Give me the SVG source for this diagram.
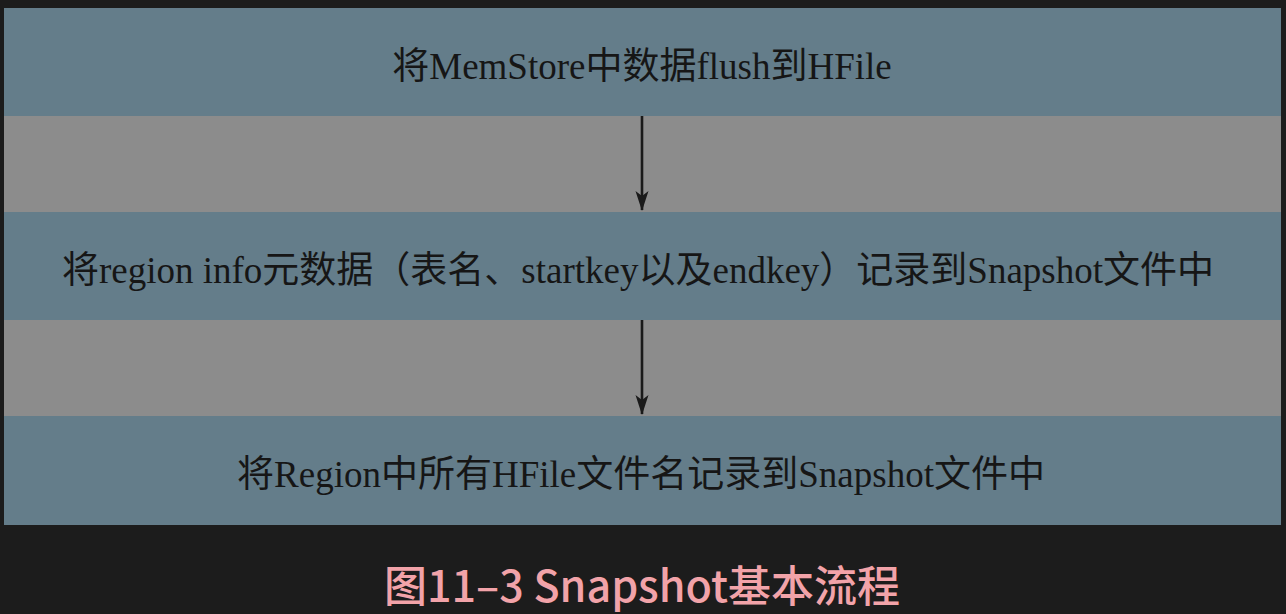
<svg xmlns="http://www.w3.org/2000/svg" width="1286" height="614" viewBox="0 0 1286 614">
  <style>
    .band { fill: #647d8a; }
    .gap { fill: #8c8c8c; }
    .label { font-family: "Liberation Serif", "Noto Sans CJK SC", serif; font-size: 37px; fill: #161616; text-anchor: middle; }
    .edge { stroke: #1a1a1a; stroke-width: 2.6; fill: none; }
    .title { font-family: "Noto Sans CJK SC", "Noto Sans", sans-serif; font-size: 43px; font-weight: 500; fill: #f2a3a9; text-anchor: middle; }
  </style>
  <defs>
    <marker id="arrow" markerUnits="userSpaceOnUse" markerWidth="20" markerHeight="14" refX="19" refY="7" orient="auto" viewBox="0 0 20 14">
      <path d="M0,0.5 L20,7 L0,13.5 L5,7 Z" fill="#1a1a1a"/>
    </marker>
  </defs>
  <rect x="0" y="0" width="1286" height="614" fill="#1c1c1c"/>
  <rect class="gap" x="4" y="116" width="1277" height="96"/>
  <rect class="gap" x="4" y="320" width="1277" height="96"/>
  <g id="node-flush">
    <rect class="band" x="4" y="8" width="1277" height="108"/>
    <text class="label" x="642" y="79">将MemStore中数据flush到HFile</text>
  </g>
  <g id="node-region-info">
    <rect class="band" x="4" y="212" width="1277" height="108"/>
    <text class="label" x="638" y="283">将region info元数据（表名、startkey以及endkey）记录到Snapshot文件中</text>
  </g>
  <g id="node-hfile-names">
    <rect class="band" x="4" y="416" width="1277" height="109"/>
    <text class="label" x="641" y="487">将Region中所有HFile文件名记录到Snapshot文件中</text>
  </g>
  <g id="connectors">
    <line class="edge" x1="642" y1="116" x2="642" y2="210" marker-end="url(#arrow)"/>
    <line class="edge" x1="642" y1="320" x2="642" y2="414" marker-end="url(#arrow)"/>
  </g>
  <text class="title" x="642" y="602">图11–3 Snapshot基本流程</text>
</svg>
